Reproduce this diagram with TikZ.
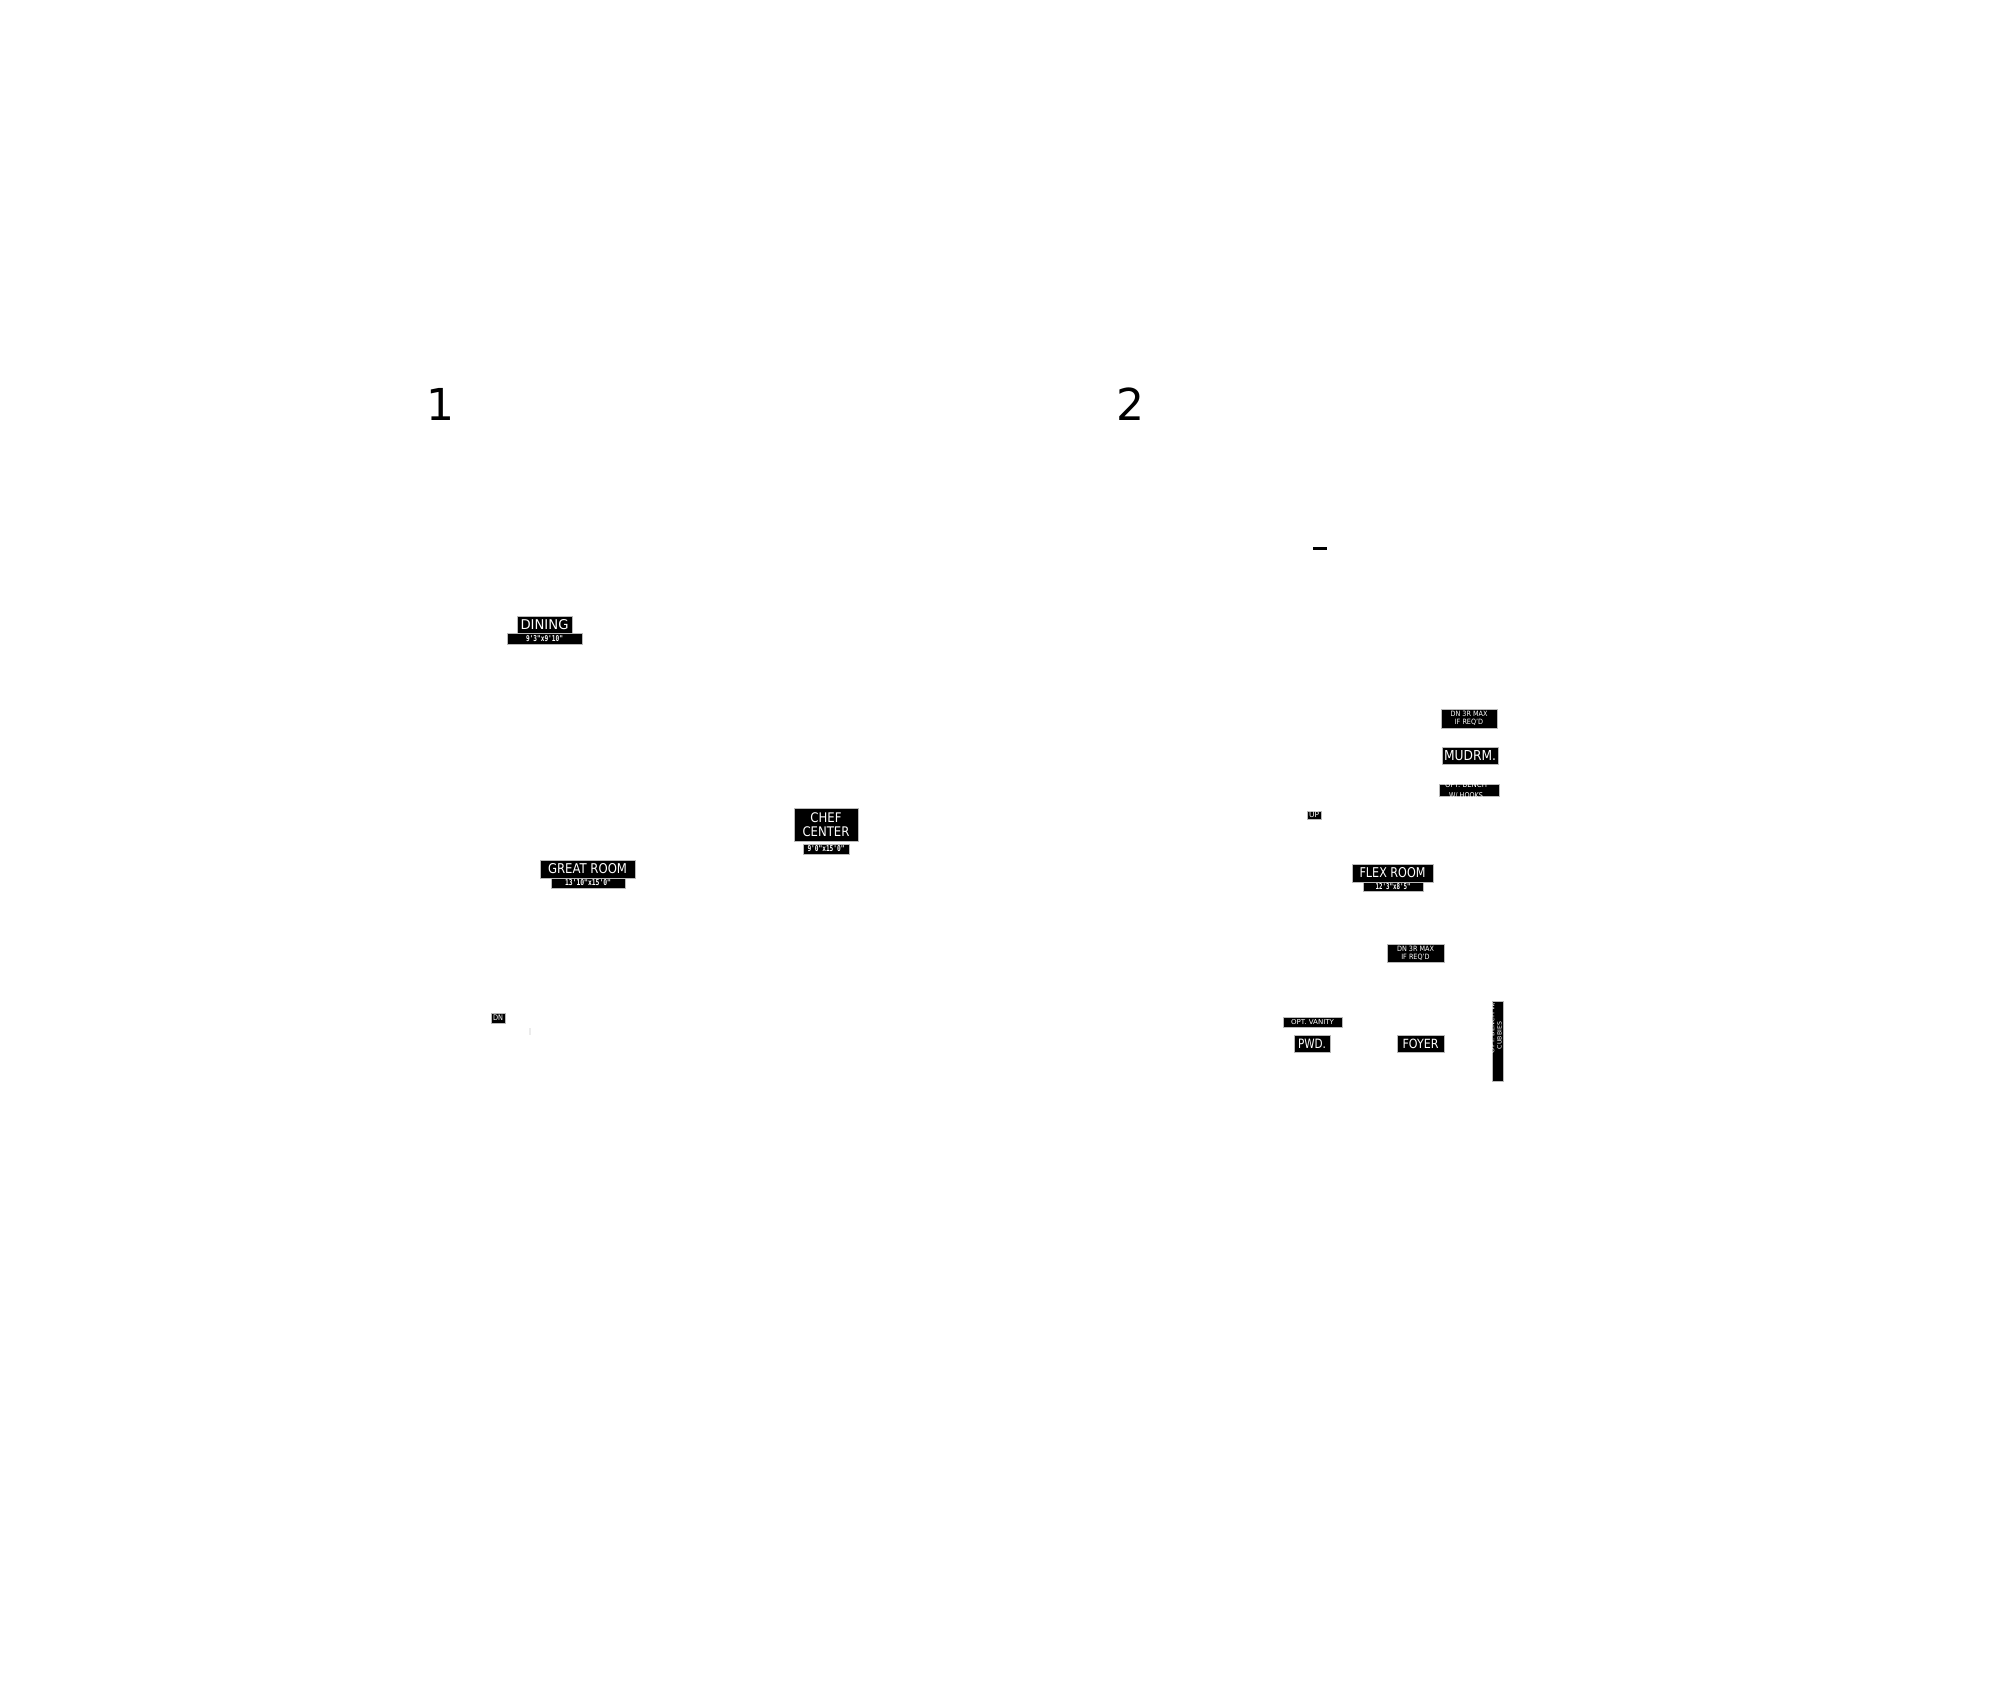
\documentclass[tikz,border=0pt]{standalone}
\usepackage{fontspec}
\setmainfont{DejaVu Sans}
\newfontfamily\dimfont{DejaVu Sans Mono}
\usepackage{graphicx}
\newcommand\tagtxt[3]{\resizebox{#1pt}{#2pt}{#3}}
\newcommand\tagstack[3]{\resizebox*{#1pt}{#2pt}{#3}}
\begin{document}
\begin{tikzpicture}[x=0.5pt,y=-0.5pt,
  tag/.style={fill=black,draw=gray!55,line width=0.3pt,inner sep=0pt,text=white},
  tagtext/.style={text=white,inner sep=0pt},
  num/.style={font=\fontsize{22}{24}\selectfont,inner sep=0pt,anchor=center}]
\useasboundingbox (0,0) rectangle (2000,1706);

% plan numbers
\node[num] (n1) at (440,404) {1};
\node[num] (n2) at (1130,404) {2};

% ---------------- plan 1 ----------------
\node[tag,minimum width=27.5pt,minimum height=8.5pt] (dining) at (544.5,624.5) {\tagtxt{24}{5}{DINING}};
\node[tag,minimum width=37.5pt,minimum height=5.5pt] (diningdim) at (544.5,638.5) {\tagtxt{18.5}{3}{\dimfont\bfseries 9'3"x9'10"}};

\node[tag,minimum width=47.5pt,minimum height=9pt] (great) at (587.5,869) {\tagtxt{39.5}{5}{GREAT ROOM}};
\node[tag,minimum width=37pt,minimum height=5pt] (greatdim) at (588,883) {\tagtxt{23}{3}{\dimfont\bfseries 13'10"x15'0"}};

\node[tag,minimum width=32pt,minimum height=16.5pt] (chef) at (826,824.5) {\tagstack{23.5}{12}{\shortstack{CHEF\\CENTER}}};
\node[tag,minimum width=23pt,minimum height=5pt] (chefdim) at (826,849) {\tagtxt{18.5}{3}{\dimfont\bfseries 9'0"x15'0"}};

\node[tag,minimum width=7pt,minimum height=5pt] (dn1) at (498,1018) {\tagtxt{5}{2.8}{DN}};
\draw[gray!15,line width=1pt] (530,1028) coordinate (f1) -- (530,1035) coordinate (f2);

% ---------------- plan 2 ----------------
\fill[black] (1313,547) rectangle (1327,550);

\node[tag,minimum width=28pt,minimum height=9.5pt] (dnA) at (1469,718.5) {\tagstack{18.5}{7}{\shortstack{DN 3R MAX\\IF REQ'D}}};
\node[tag,minimum width=28pt,minimum height=8.5pt] (mud) at (1470,755.5) {\tagtxt{26}{5}{MUDRM.}};

\node[tag,minimum width=30pt,minimum height=6pt] (bench) at (1469,790) {};
\begin{scope}
  \clip (1439,784) rectangle (1499,796);
  \node[tagtext] (bench1) at (1466,785) {\tagtxt{21}{3}{OPT. BENCH}};
  \node[tagtext] (bench2) at (1466,796) {\tagtxt{17}{3}{W/ HOOKS}};
\end{scope}

\node[tag,minimum width=7pt,minimum height=4pt] (up) at (1314,815) {\tagtxt{5}{2.8}{UP}};

\node[tag,minimum width=40.5pt,minimum height=9pt] (flex) at (1392.5,873) {\tagtxt{33}{5}{FLEX ROOM}};
\node[tag,minimum width=30pt,minimum height=4.5pt] (flexdim) at (1393,886.5) {\tagtxt{17.5}{3}{\dimfont\bfseries 12'3"x8'5"}};

\node[tag,minimum width=28.5pt,minimum height=9pt] (dnB) at (1415.5,953) {\tagstack{18.5}{7}{\shortstack{DN 3R MAX\\IF REQ'D}}};

\node[tag,minimum width=29.5pt,minimum height=5pt] (vanity) at (1312.5,1022) {\tagtxt{21.5}{2.5}{OPT. VANITY}};
\node[tag,minimum width=18pt,minimum height=8.5pt] (pwd) at (1312,1043.5) {\tagtxt{14}{4.7}{PWD.}};
\node[tag,minimum width=23.5pt,minimum height=8.5pt] (foyer) at (1420.5,1043.5) {\tagtxt{18}{4.7}{FOYER}};

\node[tag,minimum width=5.5pt,minimum height=40pt] (cubby) at (1497.5,1041) {};
\begin{scope}
  \clip (1492,1001) rectangle (1503,1081);
  \node[tagtext,rotate=90] (cubby1) at (1492.5,1027.5) {\tagtxt{25.5}{2.2}{OPT. BENCH W/}};
  \node[tagtext,rotate=90] (cubby2) at (1499.5,1035.5) {\tagtxt{13.5}{2.2}{CUBBIES}};
\end{scope}
\end{tikzpicture}
\end{document}
